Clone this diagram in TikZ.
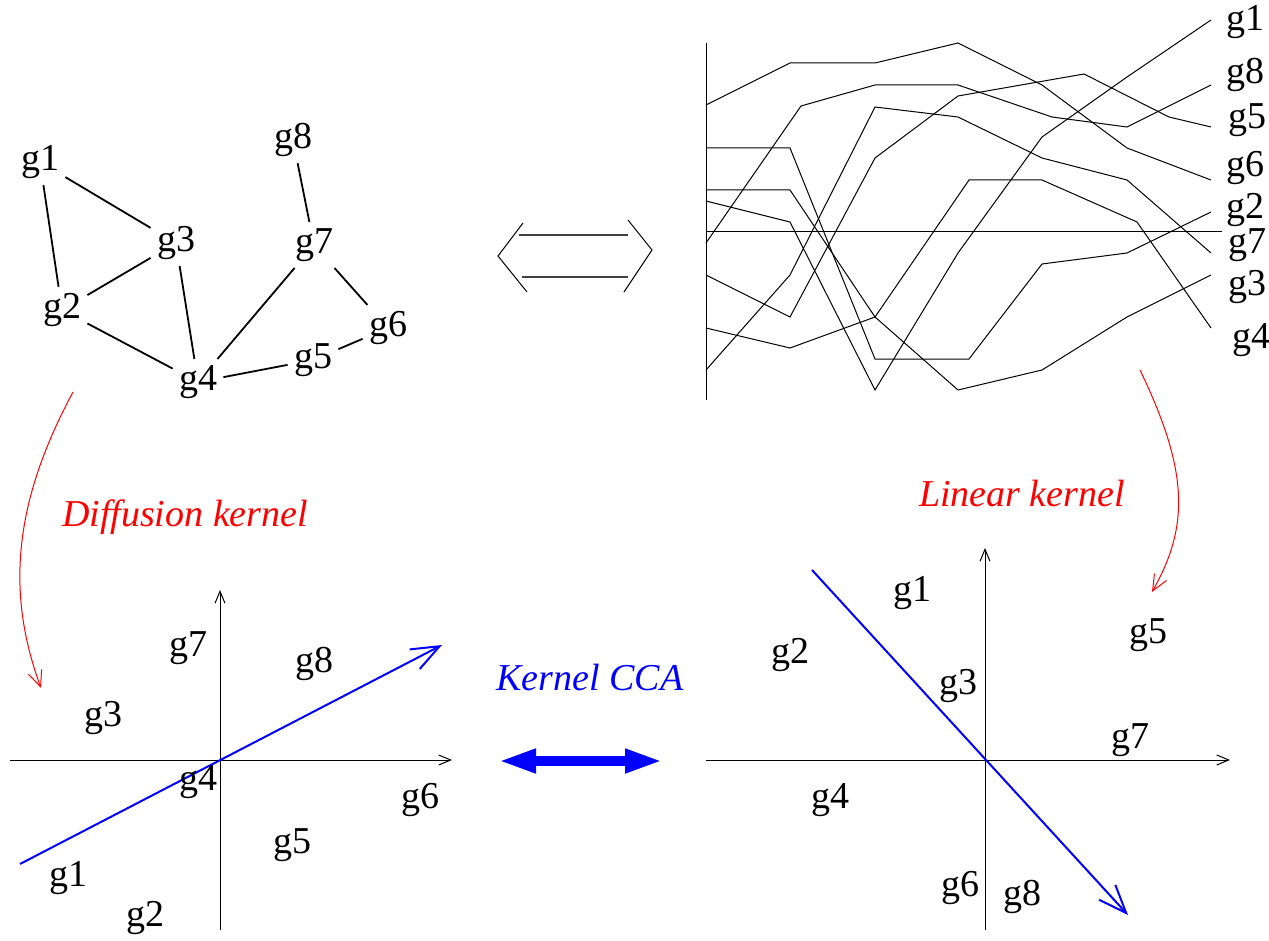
\documentclass[tikz,border=0pt]{standalone}
\usepackage{fontspec}
\setmainfont{Liberation Serif}
\usetikzlibrary{arrows.meta}

\begin{document}
\begin{tikzpicture}[x=0.5pt, y=-0.5pt,
    gene/.style={font=\fontsize{19}{22}\selectfont, inner sep=3pt},
    edge/.style={line width=0.9pt},
    profile/.style={line width=0.5pt},
    axis/.style={line width=0.5pt, -{Straight Barb[length=6pt, width=5pt]}},
    proj/.style={blue, line width=1pt, -{Straight Barb[length=14pt, width=11pt]}},
    kernarrow/.style={red, line width=0.5pt, -{Straight Barb[length=8pt, width=7pt]}},
    caption/.style={font=\fontsize{19}{22}\selectfont\itshape}]
  \useasboundingbox (0,0) rectangle (1269,941);

  % gene network
  \foreach \i/\x/\y in {1/40/162, 2/62/310, 3/176/243, 4/198/382,
                        5/313/360, 6/388/328, 7/314/245, 8/293/140}
    \node[gene] (net\i) at (\x,\y) {g\i};
  \foreach \a/\b in {1/2, 1/3, 2/3, 2/4, 3/4, 4/7, 4/5, 5/6, 7/6, 8/7}
    \draw[edge] (net\a) -- (net\b);

  % equivalence sign
  \draw[line width=0.5pt] (523,223) -- (498,256) -- (527,292);
  \draw[line width=0.5pt] (628,220) -- (652,250) -- (624,292);
  \draw[line width=0.6pt, black!75] (519,235) -- (628,235);
  \draw[line width=0.6pt, black!75] (522,277) -- (628,277);

  % expression profiles
  \draw[profile] (706,43) -- (706,400);
  \draw[profile] (706,232) -- (1222,232);
  \draw[profile] (706,105) -- (790,63) -- (875,63) -- (958,43) -- (1042,85) -- (1127,148) -- (1211,180);
  \draw[profile] (706,148) -- (790,148) -- (875,359) -- (969,359) -- (1042,264) -- (1127,253) -- (1211,212);
  \draw[profile] (706,190) -- (790,190) -- (875,317) -- (958,390) -- (1042,370) -- (1127,317) -- (1211,275);
  \draw[profile] (706,201) -- (790,222) -- (875,390) -- (958,253) -- (1042,137) -- (1127,77) -- (1211,20);
  \draw[profile] (706,243) -- (801,106) -- (875,85) -- (958,85) -- (1052,117) -- (1127,127) -- (1211,85);
  \draw[profile] (706,275) -- (790,317) -- (875,158) -- (958,96) -- (1084,74) -- (1169,117) -- (1211,127);
  \draw[profile] (706,328) -- (790,348) -- (875,317) -- (969,180) -- (1042,180) -- (1137,222) -- (1211,328);
  \draw[profile] (706,370) -- (790,275) -- (875,107) -- (958,117) -- (1042,158) -- (1127,180) -- (1211,253);
  \foreach \i/\x/\y in {1/1245/22, 8/1245/75, 5/1247/120, 6/1245/168,
                        2/1245/210, 7/1247/245, 3/1247/287, 4/1251/340}
    \node[gene] (prof\i) at (\x,\y) {g\i};

  % kernels
  \draw[kernarrow] (73,392) .. controls (15,500) and (5,590) .. (41,688);
  \node[caption, red] (diffcap) at (185,517) {Diffusion kernel};
  \draw[kernarrow] (1140,370) .. controls (1188,470) and (1190,525) .. (1152,592);
  \node[caption, red] (lincap) at (1022,494) {Linear kernel};

  % diffusion kernel space
  \draw[axis] (10,760) -- (452,760);
  \draw[axis] (220,930) -- (220,590);
  \draw[proj] (20,864) -- (442,645);
  \foreach \i/\x/\y in {7/188/648, 8/314/664, 3/103/718, 4/198/782,
                        6/420/800, 5/292/845, 1/68/878, 2/145/918}
    \node[gene] (diff\i) at (\x,\y) {g\i};

  % kernel CCA
  \node[caption, blue] (ccacap) at (590,677) {Kernel CCA};
  \draw[blue, line width=5pt, {Triangle[length=19pt, width=11pt]}-{Triangle[length=19pt, width=11pt]}]
    (498,761) -- (663,761);

  % linear kernel space
  \draw[axis] (706,760) -- (1230,760);
  \draw[axis] (985,930) -- (985,548);
  \draw[proj] (812,570) -- (1128,915);
  \foreach \i/\x/\y in {1/912/593, 2/790/655, 3/958/686, 5/1148/635,
                        7/1130/740, 4/830/800, 6/960/888, 8/1022/897}
    \node[gene] (lin\i) at (\x,\y) {g\i};
\end{tikzpicture}
\end{document}
